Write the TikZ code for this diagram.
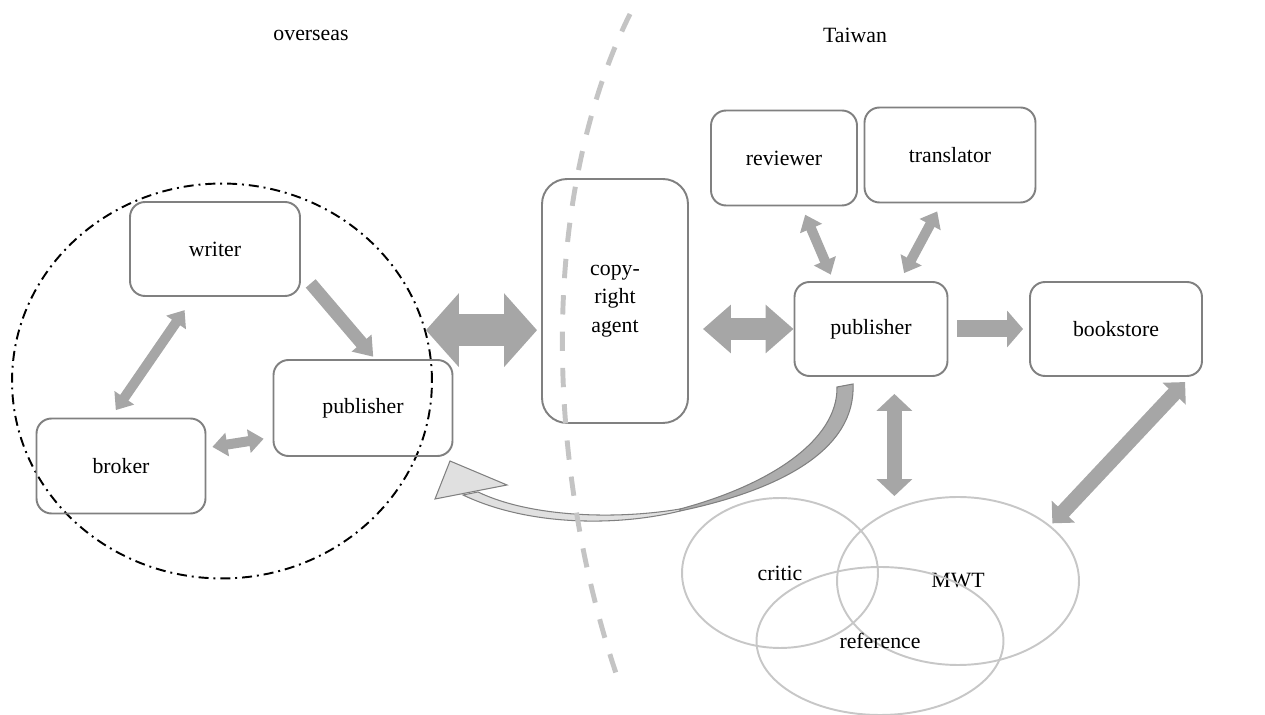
\documentclass[tikz,border=0pt]{standalone}
\usepackage{fontspec}
\setmainfont{Liberation Serif}
\usetikzlibrary{shapes.geometric,arrows.meta}
\definecolor{boxgray}{gray}{0.5}
\definecolor{arrowgray}{gray}{0.65}
\definecolor{venngray}{gray}{0.78}
\definecolor{dashgray}{gray}{0.77}
\definecolor{bandgray}{gray}{0.68}
\definecolor{headgray}{gray}{0.88}
\tikzset{x=0.02cm,y=-0.02cm,every node/.style={font=\fontsize{12.4}{16.2}\selectfont},
  box/.style={draw=boxgray,line width=1.1pt,rounded corners=0.3cm,inner sep=0pt},
  venn/.style={draw=venngray,line width=1.1pt,ellipse,inner sep=0pt},
  blk/.style={draw=arrowgray,line width=#1},
  sm/.style={blk=0.2cm,{Triangle[length=0.3cm,width=0.46cm]}-{Triangle[length=0.3cm,width=0.46cm]}}}
\begin{document}
\begin{tikzpicture}
    \useasboundingbox (0,0) rectangle (1265,715);
    \node (os) at (311,35) {overseas};
    \node (tw) at (855,35) {Taiwan};
    % overseas side
    \node[draw,ellipse,line width=1.1pt,dash pattern=on 5.7pt off 2.8pt on 1.1pt off 2.8pt,
      minimum width=8.4cm,minimum height=7.9cm,inner sep=0pt] (ov) at (222,381) {};
    \node[box,minimum width=3.4cm,minimum height=1.88cm] (wr) at (215,249) {writer};
    \node[box,minimum width=3.58cm,minimum height=1.92cm] (pub1) at (363,408) {publisher};
    \node[box,minimum width=3.38cm,minimum height=1.9cm] (br) at (121,466) {broker};
    \node[box,rounded corners=0.5cm,minimum width=2.92cm,minimum height=4.88cm,align=center] (ag) at (615,301) {copy-\\right\\agent};
    % Taiwan side
    \node[box,minimum width=2.92cm,minimum height=1.9cm] (rev) at (784,158) {reviewer};
    \node[box,minimum width=3.42cm,minimum height=1.9cm] (tr) at (950,155) {translator};
    \node[box,minimum width=3.06cm,minimum height=1.88cm] (pub2) at (871,329) {publisher};
    \node[box,minimum width=3.44cm,minimum height=1.88cm] (bs) at (1116,329) {bookstore};
    \node[venn,minimum width=3.92cm,minimum height=3cm] (cr) at (780,573) {critic};
    \node[venn,minimum width=4.84cm,minimum height=3.36cm] (mwt) at (958,581) {MWT};
    \node[venn,minimum width=4.94cm,minimum height=2.96cm] (ref) at (880,641) {reference};

    \draw[blk=0.26cm,-{Triangle[length=0.36cm,width=0.5cm]},shorten <=0.3cm,shorten >=0.06cm] (wr.-15) -- (pub1.76);
    \draw[sm,shorten <=0.32cm,shorten >=0.18cm] (wr.-114) -- (br.102);
    \draw[sm,shorten <=0.12cm,shorten >=0.18cm] (br.12) -- (pub1.198);
    \draw[blk=0.64cm,{Triangle[length=0.66cm,width=1.44cm]}-{Triangle[length=0.66cm,width=1.44cm]},shorten >=0.08cm] (ov.14) -- (ov.14 -| ag.west);
    \draw[blk=0.44cm,{Triangle[length=0.56cm,width=0.94cm]}-{Triangle[length=0.56cm,width=0.94cm]},shorten <=0.28cm] (pub2.west -| ag.east) -- (pub2.west);
    \draw[sm,shorten <=0.18cm,shorten >=0.14cm] (rev.-70) -- (pub2.128);
    \draw[sm,shorten <=0.18cm,shorten >=0.18cm] (tr.-100) -- (pub2.59);
    \draw[blk=0.34cm,-{Triangle[length=0.32cm,width=0.72cm]},shorten <=0.18cm,shorten >=0.12cm] (pub2.east) -- (bs.west);
    \draw[blk=0.3cm,{Triangle[length=0.34cm,width=0.7cm]}-{Triangle[length=0.34cm,width=0.7cm]},shorten <=0.34cm] (pub2.-64) -- (pub2.-64 |- mwt.north);
    \draw[blk=0.3cm,{Triangle[length=0.32cm,width=0.62cm]}-{Triangle[length=0.32cm,width=0.62cm]},shorten <=0.14cm,shorten >=0.06cm] (bs.-33) -- (mwt.31);

    % curved arrow back to overseas publisher
    \draw[boxgray,fill=bandgray,line width=0.6pt] (853,384) .. controls (856,450) and (780,490) .. (680,511)
      -- (680,509) .. controls (770,485) and (838,440) .. (837,387) -- cycle;
    \draw[boxgray,fill=headgray,line width=0.6pt] (680,511) .. controls (620,526) and (530,527) .. (463,495)
      -- (478,492) .. controls (530,517) and (615,520) .. (680,509) -- cycle;
    \draw[boxgray,fill=headgray,line width=0.6pt] (435,499) -- (450,461) -- (507,485) -- cycle;

    \draw[dashgray,line width=2.8pt,dash pattern=on 11pt off 9.7pt] (630,14) .. controls (538,200) and (545,470) .. (620,685);
\end{tikzpicture}
\end{document}
